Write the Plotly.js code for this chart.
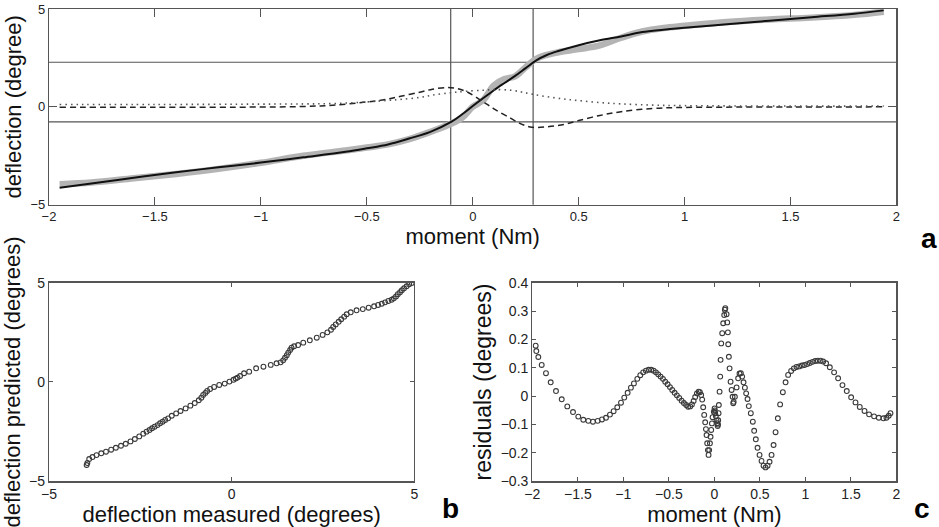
<!DOCTYPE html>
<html>
<head>
<meta charset="utf-8">
<script src="https://cdn.plot.ly/plotly-3.0.1.min.js"></script>
<style>html,body{margin:0;padding:0;background:#fff;}#chart{width:939px;height:527px;}</style>
</head>
<body>
<div id="chart"></div>
<script>
// ---- Panel a: deflection vs moment ----
const lineMoment = [-1.95,-1.8,-1.6,-1.4,-1.2,-1.0,-0.8,-0.6,-0.5,-0.4,-0.3,-0.2,-0.1,-0.05,0.0,0.05,0.1,0.15,0.2,0.25,0.3,0.35,0.4,0.5,0.6,0.7,0.8,0.9,1.0,1.2,1.4,1.6,1.8,1.94];
const measuredDeflection = [-3.95,-3.87,-3.65,-3.43,-3.17,-2.86,-2.50,-2.23,-2.08,-1.92,-1.65,-1.28,-0.85,-0.55,0.0,0.35,1.10,1.42,1.56,2.02,2.46,2.66,2.78,2.95,3.14,3.53,3.85,4.03,4.14,4.34,4.47,4.56,4.70,4.86];
const predictedDeflection = [-4.13,-3.92,-3.62,-3.34,-3.09,-2.85,-2.58,-2.30,-2.12,-1.92,-1.62,-1.28,-0.76,-0.38,0.04,0.45,0.85,1.22,1.58,1.98,2.38,2.65,2.84,3.15,3.40,3.60,3.82,3.94,4.04,4.22,4.40,4.58,4.76,4.93];
const curveMoment = [-1.95,-1.5,-1.0,-0.8,-0.66,-0.5,-0.4,-0.34,-0.25,-0.19,-0.12,-0.08,-0.03,0.05,0.1,0.18,0.23,0.28,0.35,0.43,0.5,0.6,0.7,0.85,1.0,1.5,1.94];
const dashedCurve = [-0.02,-0.02,-0.01,0.02,0.08,0.25,0.40,0.54,0.75,0.90,0.99,0.95,0.78,0.25,-0.10,-0.59,-0.88,-1.04,-1.02,-0.90,-0.70,-0.44,-0.25,-0.08,-0.03,-0.01,0.0];
const dottedCurve = [0.12,0.12,0.14,0.15,0.17,0.25,0.33,0.38,0.48,0.60,0.70,0.75,0.80,0.85,0.88,0.85,0.76,0.65,0.52,0.40,0.32,0.22,0.15,0.09,0.06,0.04,0.04];
const refLinesX = [-0.104, 0.285];
const refLinesY = [-0.77, 2.28];
const xTicksA = [-2,-1.5,-1,-0.5,0,0.5,1,1.5,2];
const yTicksA = [-5,0,5];

// ---- Panel b: predicted vs measured ----
const scatterMeasured = [-3.97,-3.95,-3.90,-3.81,-3.70,-3.57,-3.44,-3.30,-3.17,-3.03,-2.90,-2.77,-2.65,-2.53,-2.42,-2.33,-2.25,-2.18,-2.11,-2.03,-1.96,-1.89,-1.82,-1.74,-1.64,-1.52,-1.40,-1.26,-1.13,-1.01,-0.90,-0.83,-0.78,-0.72,-0.67,-0.59,-0.48,-0.34,-0.19,-0.06,0.05,0.11,0.16,0.23,0.34,0.48,0.67,0.87,1.07,1.23,1.34,1.41,1.46,1.51,1.55,1.60,1.64,1.71,1.82,1.96,2.14,2.33,2.49,2.62,2.72,2.78,2.85,2.93,3.00,3.08,3.15,3.26,3.42,3.59,3.75,3.90,4.01,4.11,4.20,4.29,4.38,4.44,4.50,4.55,4.61,4.66,4.72,4.79,4.86,4.93];
const scatterPredicted = [-4.18,-4.08,-3.88,-3.78,-3.68,-3.59,-3.51,-3.41,-3.31,-3.21,-3.11,-2.99,-2.87,-2.74,-2.60,-2.50,-2.42,-2.33,-2.25,-2.17,-2.08,-2.00,-1.91,-1.83,-1.70,-1.58,-1.46,-1.33,-1.19,-1.06,-0.92,-0.79,-0.65,-0.55,-0.45,-0.35,-0.25,-0.15,-0.08,0.02,0.11,0.17,0.22,0.30,0.44,0.52,0.69,0.77,0.86,0.94,0.99,1.09,1.22,1.35,1.48,1.61,1.73,1.80,1.86,1.98,2.10,2.23,2.37,2.50,2.63,2.77,2.90,3.03,3.16,3.29,3.41,3.51,3.61,3.67,3.74,3.81,3.88,3.94,4.01,4.08,4.14,4.21,4.31,4.42,4.52,4.62,4.72,4.82,4.92,4.98];
const ticksB = [-5,0,5];

// ---- Panel c: residuals vs moment ----
const residualMoment = [-1.963,-1.956,-1.934,-1.897,-1.85,-1.798,-1.74,-1.677,-1.616,-1.553,-1.495,-1.44,-1.385,-1.334,-1.282,-1.235,-1.191,-1.147,-1.107,-1.067,-1.026,-0.99,-0.953,-0.917,-0.884,-0.847,-0.814,-0.782,-0.752,-0.722,-0.694,-0.667,-0.642,-0.617,-0.591,-0.565,-0.540,-0.514,-0.488,-0.463,-0.437,-0.412,-0.386,-0.360,-0.335,-0.310,-0.288,-0.266,-0.247,-0.228,-0.211,-0.192,-0.173,-0.159,-0.145,-0.134,-0.123,-0.112,-0.101,-0.093,-0.086,-0.079,-0.071,-0.064,
-0.057,-0.049,-0.042,-0.035,-0.027,-0.020,-0.006,0.002,0.004,0.009,0.016,0.024,0.031,0.036,0.040,0.042,0.046,0.049,0.057,0.064,0.068,0.075,0.086,0.097,0.108,0.115,0.120,0.134,0.141,0.148,0.152,0.159,0.167,0.178,0.189,0.200,0.207,0.212,0.225,0.244,0.261,0.276,0.291,0.305,
0.320,0.335,0.349,0.364,0.378,0.400,0.422,0.437,0.455,0.474,0.496,0.518,0.540,0.562,0.584,0.606,0.628,0.650,0.672,0.697,0.722,0.752,0.782,0.810,0.843,0.873,0.902,0.931,0.961,0.990,1.019,1.048,1.078,1.107,1.136,1.166,1.195,1.227,1.268,1.315,1.359,1.407,1.454,1.502,1.55,1.597,1.649,1.699,1.754,1.806,1.857,1.890,1.915,1.934];
const residualValue = [0.178,0.159,0.138,0.110,0.081,0.049,0.018,-0.011,-0.036,-0.056,-0.072,-0.083,-0.087,-0.090,-0.087,-0.082,-0.076,-0.065,-0.053,-0.039,-0.023,-0.005,0.012,0.030,0.045,0.061,0.074,0.084,0.090,0.093,0.093,0.090,0.084,0.077,0.069,0.061,0.051,0.042,0.032,0.022,0.012,0.003,-0.006,-0.016,-0.024,-0.031,-0.037,-0.036,-0.029,-0.017,-0.003,0.010,0.016,0.014,0.004,-0.012,-0.039,-0.066,-0.092,-0.116,-0.137,-0.166,-0.190,-0.207,
-0.190,-0.166,-0.143,-0.119,-0.096,-0.074,-0.055,-0.043,-0.050,-0.060,-0.070,-0.086,-0.095,-0.105,-0.100,-0.085,-0.060,-0.031,0.016,0.069,0.128,0.186,0.222,0.257,0.286,0.305,0.310,0.289,0.260,0.225,0.183,0.139,0.098,0.051,0.022,-0.002,-0.025,-0.020,-0.002,0.031,0.063,0.080,0.081,0.069,
0.049,0.030,0.010,-0.010,-0.035,-0.060,-0.090,-0.122,-0.152,-0.182,-0.207,-0.228,-0.245,-0.251,-0.245,-0.231,-0.207,-0.172,-0.127,-0.078,-0.029,0.014,0.049,0.075,0.089,0.098,0.103,0.105,0.108,0.110,0.113,0.117,0.121,0.124,0.125,0.125,0.122,0.116,0.102,0.084,0.063,0.039,0.018,-0.004,-0.022,-0.038,-0.052,-0.064,-0.071,-0.076,-0.078,-0.076,-0.069,-0.060];
const xTicksC = [-2,-1.5,-1,-0.5,0,0.5,1,1.5,2];
const yTicksC = [-0.3,-0.2,-0.1,0,0.1,0.2,0.3,0.4];

const FONT = 'Liberation Sans, Arial, Helvetica, sans-serif';
const AX = '#555';
const marker = {symbol:'circle-open', size:4.8, color:'#3a3a3a', line:{width:1.1, color:'#3a3a3a'}};

const traces = [
  {x:lineMoment, y:measuredDeflection, xaxis:'x', yaxis:'y', mode:'lines', line:{color:'#b4b4b4', width:6.5, shape:'spline'}, hoverinfo:'skip'},
  {x:lineMoment, y:predictedDeflection, xaxis:'x', yaxis:'y', mode:'lines', line:{color:'#111', width:2, shape:'spline'}},
  {x:curveMoment, y:dashedCurve, xaxis:'x', yaxis:'y', mode:'lines', line:{color:'#222', width:1.5, dash:'6px,4px', shape:'spline'}},
  {x:curveMoment, y:dottedCurve, xaxis:'x', yaxis:'y', mode:'lines', line:{color:'#555', width:1.6, dash:'1.5px,4px', shape:'spline'}},
  {x:scatterMeasured, y:scatterPredicted, xaxis:'x2', yaxis:'y2', mode:'markers', marker:marker},
  {x:residualMoment, y:residualValue, xaxis:'x3', yaxis:'y3', mode:'markers', marker:marker}
];

const shapes = [];
refLinesY.forEach(v => shapes.push({type:'line', xref:'x domain', x0:0, x1:1, yref:'y', y0:v, y1:v, line:{color:'#555', width:1.2}, layer:'below'}));
refLinesX.forEach(v => shapes.push({type:'line', yref:'y domain', y0:0, y1:1, xref:'x', x0:v, x1:v, line:{color:'#555', width:1.2}, layer:'below'}));

function axis(extra, fs){
  return Object.assign({showline:true, linecolor:AX, linewidth:1.2, mirror:'ticks', ticks:'inside', tickcolor:AX, tickwidth:1,
    showgrid:false, zeroline:false, automargin:false, ticklabeloverflow:'allow',
    tickfont:{family:FONT, size:fs || 13, color:'#222'}, fixedrange:true}, extra);
}
const tf = s => ({family:FONT, size:s, color:'#111'});
const lbl = {family:FONT, size:28, color:'#000'};

const layout = {
  width:939, height:527, margin:{l:0,r:0,t:0,b:0},
  paper_bgcolor:'#fff', plot_bgcolor:'#fff', showlegend:false,
  font:{family:FONT},
  xaxis: axis({domain:[0.0522,0.9547], anchor:'y', range:[-2,2], tickvals:xTicksA, ticklen:8,
    title:{text:'moment (Nm)', font:tf(22), standoff:2}}, 13),
  yaxis: axis({domain:[0.6116,0.9829], anchor:'x', range:[-5,5], tickvals:yTicksA, ticklen:8,
    title:{text:'deflection (degree)', font:tf(22), standoff:2}}, 13),
  xaxis2: axis({domain:[0.0522,0.4412], anchor:'y2', range:[-5,5], tickvals:ticksB, ticklen:4,
    title:{text:'deflection measured (degrees)', font:tf(22), standoff:0}}, 14),
  yaxis2: axis({domain:[0.0867,0.4636], anchor:'x2', range:[-5,5], tickvals:ticksB, ticklen:4,
    title:{text:'deflection predicted (degrees)', font:tf(22), standoff:2}}, 14),
  xaxis3: axis({domain:[0.5669,0.9547], anchor:'y3', range:[-2,2], tickvals:xTicksC, ticklen:4,
    title:{text:'moment (Nm)', font:tf(22), standoff:0}}, 14),
  yaxis3: axis({domain:[0.0867,0.4636], anchor:'x3', range:[-0.3,0.4], tickvals:yTicksC, ticklen:4,
    title:{text:'residuals (degrees)', font:tf(23), standoff:2}}, 14),
  shapes: shapes,
  annotations: [
    {text:'<b>a</b>', xref:'paper', yref:'paper', x:929/939, y:1-238/527, xanchor:'center', yanchor:'middle', borderpad:0, showarrow:false, font:lbl},
    {text:'<b>b</b>', xref:'paper', yref:'paper', x:450/939, y:1-525/527, xanchor:'center', yanchor:'bottom', borderpad:0, showarrow:false, font:lbl},
    {text:'<b>c</b>', xref:'paper', yref:'paper', x:922/939, y:1-525/527, xanchor:'center', yanchor:'bottom', borderpad:0, showarrow:false, font:lbl}
  ]
};

Plotly.newPlot('chart', traces, layout, {displayModeBar:false, staticPlot:true});
</script>
</body>
</html>
